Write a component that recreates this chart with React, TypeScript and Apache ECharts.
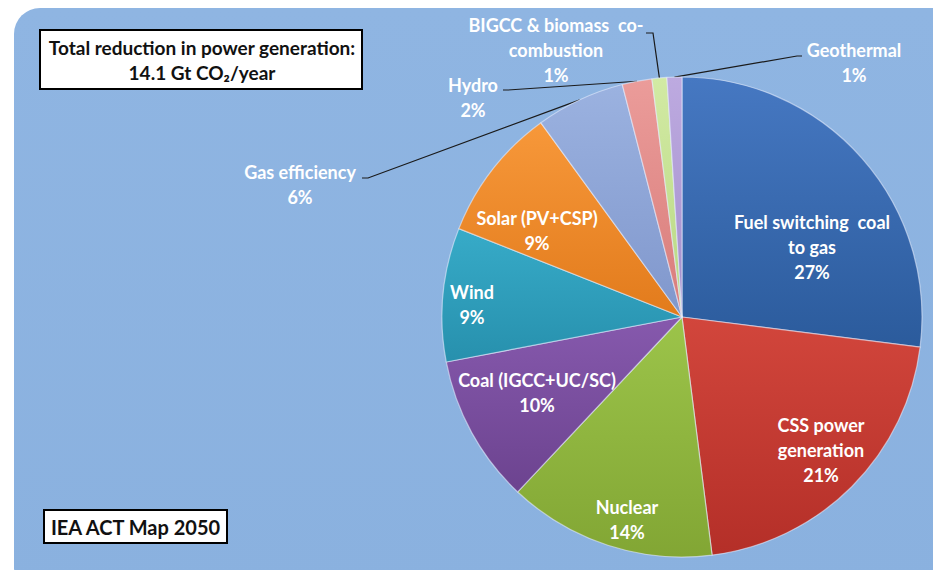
import React, { useEffect, useRef } from "react";
import * as echarts from "echarts";

// ---- data ----
const categories: string[] = [
  "Fuel switching  coal\nto gas",
  "CSS power\ngeneration",
  "Nuclear",
  "Coal (IGCC+UC/SC)",
  "Wind",
  "Solar (PV+CSP)",
  "Gas efficiency",
  "Hydro",
  "BIGCC & biomass  co-\ncombustion",
  "Geothermal",
];
const shares: number[] = [27, 21, 14, 10, 9, 9, 6, 2, 1, 1];
const titleLines: string[] = ["Total reduction in power generation:", "14.1 Gt CO\u2082/year"];
const sourceNote = "IEA ACT Map 2050";

// ---- styling ----
const sliceColors: [string, string][] = [
  ["#4678c2", "#2b5b9c"],
  ["#d2463c", "#b42f28"],
  ["#9cc44a", "#82a634"],
  ["#8659ad", "#6c438f"],
  ["#37abc8", "#2790ad"],
  ["#f7983a", "#e27b1c"],
  ["#9bb2e0", "#8097cc"],
  ["#eb9c9a", "#d87c7a"],
  ["#d2eaa4", "#b8d882"],
  ["#bdaae0", "#a38fcc"],
];
const outsideIdx = [6, 7, 8, 9];
const labelPos: [number, number][] = [
  [812, 247],
  [821, 450],
  [627, 519],
  [537, 392],
  [472, 304],
  [537, 230],
  [300, 184],
  [473, 97],
  [556, 50],
  [854, 62],
];
const linePts: Record<number, [number, number][]> = {
  6: [[368, 178], [362, 178]],
  7: [[508, 90], [503, 90]],
  8: [[653, 33], [646, 33]],
  9: [[797, 56], [802, 56]],
};

const FONT = "Lato, 'Open Sans', sans-serif";

export default function App() {
  const ref = useRef<HTMLDivElement>(null);
  useEffect(() => {
    document.body.style.margin = "0";
    const chart = echarts.init(ref.current!, undefined, { renderer: "svg" });
    const data = categories.map((name, i) => {
      const outside = outsideIdx.includes(i);
      return {
        name,
        value: shares[i],
        itemStyle: {
          color: new echarts.graphic.LinearGradient(0, 0, 0, 1, [
            { offset: 0, color: sliceColors[i][0] },
            { offset: 1, color: sliceColors[i][1] },
          ]),
        },
        label: { position: outside ? "outside" : "inside" },
        labelLine: { show: outside },
      };
    });
    chart.setOption({
      animation: false,
      graphic: [
        {
          type: "rect",
          z: -10,
          shape: { x: 14, y: 8, width: 945, height: 585, r: 26 },
          style: {
            fill: new echarts.graphic.LinearGradient(0, 0, 0, 1, [
              { offset: 0, color: "#8fb5e2" },
              { offset: 1, color: "#8ab1df" },
            ]),
          },
        },
        {
          type: "rect",
          shape: { x: 40, y: 30, width: 322, height: 59 },
          style: { fill: "#ffffff", stroke: "#000000", lineWidth: 2 },
        },
        {
          type: "text",
          x: 202,
          y: 47,
          style: {
            text: titleLines[0],
            fill: "#111",
            font: `bold 19px ${FONT}`,
            align: "center",
            verticalAlign: "middle",
          },
        },
        {
          type: "text",
          x: 202,
          y: 72,
          style: {
            text: titleLines[1],
            fill: "#111",
            font: `bold 19px ${FONT}`,
            align: "center",
            verticalAlign: "middle",
          },
        },
        {
          type: "rect",
          shape: { x: 44, y: 510, width: 183, height: 33 },
          style: { fill: "#ffffff", stroke: "#000000", lineWidth: 2 },
        },
        {
          type: "text",
          x: 135.5,
          y: 527,
          style: {
            text: sourceNote,
            fill: "#111",
            font: `bold 20px ${FONT}`,
            align: "center",
            verticalAlign: "middle",
          },
        },
      ],
      series: [
        {
          type: "pie",
          center: [682, 317],
          radius: 240,
          startAngle: 90,
          clockwise: true,
          avoidLabelOverlap: false,
          itemStyle: { borderColor: "rgba(235,240,255,0.55)", borderWidth: 1.2 },
          label: {
            show: true,
            formatter: "{b}\n{c}%",
            color: "#ffffff",
            fontFamily: FONT,
            fontWeight: "bold",
            fontSize: 18,
            lineHeight: 25,
            align: "center",
          },
          labelLine: { show: true, lineStyle: { color: "#1a1a1a", width: 1.2 } },
          labelLayout: (params: any) => {
            const i = params.dataIndex;
            const p = labelPos[i];
            const out: any = { x: p[0], y: p[1], align: "center", verticalAlign: "middle" };
            if (linePts[i] && params.labelLinePoints) {
              const pts = params.labelLinePoints;
              out.labelLinePoints = [pts[0], linePts[i][0], linePts[i][1]];
            }
            return out;
          },
          data,
        },
      ],
    });
    return () => chart.dispose();
  }, []);
  return <div ref={ref} style={{ position: "fixed", left: 0, top: 0, width: 933, height: 570, background: "#ffffff" }} />;
}
